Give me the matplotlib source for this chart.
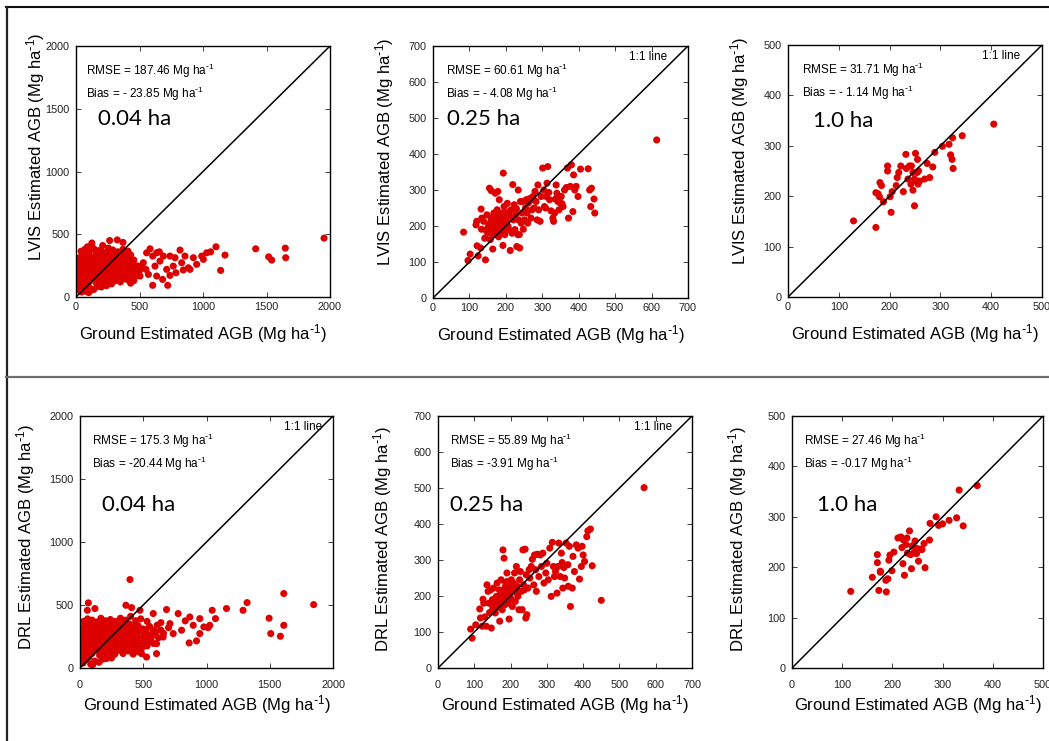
import numpy as np
import matplotlib
matplotlib.use("Agg")
import matplotlib.pyplot as plt
from matplotlib.lines import Line2D

plt.rcParams['font.family'] = ['Liberation Sans', 'DejaVu Sans']
plt.rcParams['mathtext.default'] = 'regular'

############################################
# DATA
############################################

# LVIS vs ground, 0.04 ha
lvis04_x = [30, 55, 80, 110, 140, 170, 60, 95, 15, 45, 100, 120, 200, 240,
            10, 35, 65, 100, 130, 160, 190, 220, 250, 280, 310, 350, 400, 430,
            5, 25, 50, 75, 105, 130, 155, 185, 210, 240, 270, 300, 330, 360, 390, 420, 450, 480,
            8, 30, 55, 80, 110, 135, 160, 190, 215, 245, 275, 305, 335, 365, 395, 425, 455, 500,
            10, 35, 60, 90, 115, 145, 170, 200, 230, 260, 290, 320, 350, 380, 410, 440, 470,
            20, 45, 75, 100, 130, 160, 185, 215, 245, 275, 305, 335, 365, 395, 430,
            40, 70, 105, 140, 180, 215, 255, 290, 330, 370, 410,
            20, 50, 85, 120, 150, 180, 235, 265, 295, 330, 370, 415, 455,
            20, 48, 92, 122, 175, 228, 255, 318, 345, 405, 440, 490,
            25, 72, 122, 195, 225, 262, 305, 345, 375, 430, 465, 520,
            30, 88, 118, 200, 232, 262, 310, 350, 375, 415, 455,
            55, 90, 160, 200, 230, 275, 310, 350, 390,
            125, 265, 325, 370, 210, 90,
            583, 556, 604, 530, 622, 656, 688, 635, 604, 661, 714, 722, 740, 766, 780,
            819, 832, 845, 858, 885, 898, 924, 950, 990, 1003, 1029, 1060, 1102, 1139,
            1173, 1415, 1517, 1541, 1648, 1651, 1953, 682, 570, 504, 491, 551, 740, 787, 635]
lvis04_y = [50, 75, 45, 70, 60, 85, 110, 95, 90, 40, 35, 55, 80, 90,
            120, 140, 130, 120, 135, 110, 125, 100, 115, 105, 130, 120, 140, 110,
            170, 185, 160, 175, 165, 190, 160, 180, 155, 175, 160, 185, 150, 175, 160, 185, 150, 170,
            220, 230, 205, 235, 215, 240, 210, 230, 205, 225, 240, 210, 230, 205, 235, 215, 230, 210,
            260, 280, 255, 275, 250, 285, 260, 280, 255, 290, 265, 280, 255, 285, 260, 275, 250,
            310, 330, 305, 335, 315, 340, 305, 325, 310, 335, 320, 300, 330, 315, 335,
            365, 380, 360, 385, 370, 355, 390, 375, 360, 380, 365,
            148, 150, 150, 152, 142, 150, 140, 145, 170, 140, 145, 160, 130,
            198, 196, 196, 200, 205, 192, 200, 190, 198, 200, 190, 195,
            245, 250, 238, 252, 240, 248, 245, 250, 240, 250, 245, 235,
            290, 300, 300, 300, 292, 310, 295, 300, 300, 300, 295,
            345, 350, 345, 350, 348, 350, 348, 345, 345,
            430, 450, 455, 435, 410, 400,
            384, 352, 326, 273, 246, 360, 326, 167, 93, 286, 220, 93, 326, 246, 313,
            374, 273, 215, 326, 233, 220, 313, 260, 326, 300, 352, 360, 400, 212,
            334, 384, 320, 294, 389, 313, 469, 140, 180, 167, 246, 220, 172, 193, 352]

# LVIS vs ground, 0.25 ha
lvis25_x = [84, 96, 102, 121, 124, 131, 132, 118, 120, 133, 134, 139, 142, 144, 145, 148,
            150, 152, 154, 155, 157, 159, 160, 163, 164, 166, 167, 169, 171, 173, 174, 176,
            177, 178, 180, 182, 183, 185, 187, 189, 190, 192, 193, 194, 195, 196, 197, 199,
            200, 202, 204, 206, 208, 210, 212, 214, 217, 219, 221, 223, 225, 227, 229, 230,
            233, 234, 235, 237, 238, 240, 242, 244, 246, 248, 251, 254, 256, 258, 260, 262,
            265, 269, 272, 274, 276, 278, 280, 283, 286, 288, 290, 294, 297, 301, 304, 306,
            309, 311, 313, 315, 318, 320, 324, 329, 331, 334, 336, 338, 340, 343, 346, 347,
            349, 352, 354, 357, 361, 366, 369, 372, 377, 380, 384, 386, 389, 393, 398, 405,
            426, 430, 433, 435, 442, 444, 614,
            165, 175, 185, 195, 205, 170, 180, 190, 200, 160, 210]
lvis25_y = [183, 104, 122, 145, 117, 139, 247, 203, 213, 191, 222, 213, 166, 106, 189, 231,
            180, 199, 206, 305, 162, 222, 298, 190, 136, 176, 236, 199, 291, 217, 180, 245,
            190, 296, 208, 273, 231, 194, 217, 180, 236, 146, 347, 203, 254, 222, 176, 190,
            236, 213, 263, 199, 190, 227, 132, 245, 180, 315, 217, 259, 190, 231, 248, 143,
            176, 300, 217, 176, 139, 268, 208, 236, 268, 191, 217, 250, 273, 236, 208, 264,
            276, 222, 245, 282, 273, 250, 296, 268, 217, 314, 245, 213, 282, 361, 300, 254,
            250, 282, 319, 365, 293, 273, 242, 222, 213, 236, 275, 314, 291, 268, 245, 278,
            264, 282, 262, 254, 300, 307, 361, 222, 310, 370, 240, 342, 300, 310, 282, 358,
            359, 300, 254, 305, 275, 236, 439,
            195, 210, 185, 205, 200, 225, 170, 220, 210, 210, 240]

# LVIS vs ground, 1.0 ha
lvis10_x = [129, 173, 173, 177, 180, 181, 184, 188, 196, 196, 201, 203, 205, 213, 215, 218,
            222, 227, 232, 233, 236, 239, 242, 243, 246, 246, 249, 251, 253, 254, 255, 256,
            257, 259, 269, 274, 279, 285, 289, 304, 317, 320, 323, 324, 325, 343, 405, 249]
lvis10_y = [151, 138, 207, 205, 199, 227, 221, 189, 260, 250, 199, 168, 209, 221, 237, 247,
            260, 209, 283, 255, 234, 260, 224, 260, 212, 247, 181, 285, 230, 247, 273, 224,
            250, 230, 234, 265, 237, 258, 287, 299, 303, 282, 273, 316, 255, 320, 343, 234]

# DRL vs ground, 0.04 ha
drl04_x = [25, 50, 85, 115, 150, 180, 40, 70, 12, 100, 210, 250,
           8, 30, 60, 95, 125, 155, 185, 215, 245, 275, 305, 340, 380, 420, 460,
           5, 20, 45, 70, 100, 125, 150, 180, 205, 235, 265, 295, 325, 355, 385, 415, 445, 490, 530,
           10, 35, 60, 85, 115, 140, 165, 195, 220, 250, 280, 310, 340, 370, 400, 430, 465, 510, 560, 620,
           15, 40, 65, 95, 120, 150, 175, 205, 235, 265, 295, 325, 355, 385, 415, 450, 490, 540, 600, 660,
           20, 50, 80, 110, 140, 170, 200, 230, 260, 290, 320, 350, 380, 420, 460, 500, 550, 610, 700,
           30, 60, 95, 130, 165, 200, 240, 280, 320, 360, 400, 440, 480, 530, 640,
           15, 45, 80, 110, 140, 170, 200, 230, 260, 290, 320, 360, 400, 440,
           25, 55, 90, 130, 160, 190, 230, 260, 300, 340, 380, 420, 470, 520, 580,
           20, 50, 80, 115, 150, 185, 220, 255, 290, 330, 370, 410, 455, 505, 570, 640,
           35, 70, 105, 150, 190, 230, 270, 310, 350, 390, 430, 470, 520, 580,
           45, 85, 125, 165, 210, 255, 300, 345, 390, 440,
           66, 395, 58, 118, 363, 408, 474, 579, 684, 776, 868, 947, 1045, 1071, 1158,
           1289, 1321, 1495, 1508, 1584, 1611, 1611, 1847, 863, 921, 947, 1013, 1026, 979,
           895, 832, 803, 737, 711, 658, 605, 526, 487, 605]
drl04_y = [40, 65, 30, 55, 45, 70, 100, 85, 80, 25, 75, 80,
           120, 105, 130, 115, 140, 100, 125, 105, 130, 110, 140, 115, 135, 110, 130,
           175, 160, 185, 165, 190, 170, 155, 185, 165, 180, 160, 190, 170, 155, 185, 165, 180, 160, 175,
           225, 240, 210, 235, 215, 245, 220, 235, 210, 240, 220, 205, 235, 215, 245, 225, 210, 235, 220, 240,
           270, 290, 260, 285, 265, 295, 270, 290, 260, 285, 270, 295, 260, 280, 300, 270, 290, 265, 285, 275,
           320, 340, 310, 335, 315, 345, 325, 310, 340, 320, 335, 315, 345, 320, 335, 310, 330, 340, 320,
           370, 390, 380, 365, 395, 375, 385, 370, 395, 380, 410, 375, 390, 370, 360,
           150, 145, 150, 155, 150, 145, 150, 155, 150, 145, 150, 150, 155, 145,
           200, 200, 195, 200, 205, 195, 200, 205, 195, 200, 205, 200, 195, 200, 195,
           250, 255, 250, 245, 255, 250, 245, 255, 250, 245, 255, 250, 245, 250, 255,
           300, 300, 305, 300, 295, 305, 300, 295, 300, 305, 300, 295, 300, 300, 300,
           350, 355, 350, 345, 355, 350, 345, 355, 350, 345,
           517, 702, 458, 472, 498, 479, 458, 432, 464, 432, 405, 392, 458, 392, 472,
           458, 519, 395, 273, 252, 591, 339, 503, 199, 215, 273, 320, 339, 326,
           339, 374, 300, 273, 352, 246, 114, 87, 114, 193]

# DRL vs ground, 0.25 ha
drl25_x = [90, 94, 104, 115, 117, 122, 124, 126, 129, 133, 135, 138, 140, 142, 145, 147,
           150, 151, 153, 156, 158, 161, 163, 165, 167, 169, 170, 172, 174, 176, 177, 179,
           180, 182, 184, 185, 187, 189, 190, 192, 194, 196, 198, 199, 202, 205, 207, 208,
           211, 213, 216, 218, 220, 223, 225, 227, 230, 232, 234, 236, 238, 240, 242, 243,
           245, 248, 251, 253, 257, 260, 264, 266, 269, 271, 274, 278, 282, 285, 289, 292,
           297, 300, 304, 308, 312, 315, 318, 321, 324, 328, 331, 333, 337, 340, 342, 344,
           347, 349, 353, 358, 359, 362, 365, 370, 372, 376, 381, 386, 390, 395, 397, 400,
           404, 410, 413, 420, 425, 450, 568,
           175, 185, 195, 205, 180, 200, 190, 215]
drl25_y = [108, 83, 120, 164, 139, 116, 191, 180, 142, 116, 231, 213, 180, 154, 217, 111,
           190, 167, 222, 180, 153, 199, 236, 169, 190, 217, 130, 180, 245, 206, 162, 328,
           190, 305, 217, 176, 236, 199, 264, 180, 213, 136, 227, 190, 245, 171, 217, 236,
           264, 185, 282, 227, 199, 162, 245, 268, 213, 162, 328, 231, 217, 330, 139, 259,
           148, 222, 273, 250, 282, 302, 231, 314, 273, 213, 316, 254, 314, 282, 319, 236,
           264, 291, 245, 333, 199, 349, 282, 254, 268, 208, 282, 347, 254, 319, 293, 222,
           279, 250, 347, 287, 227, 338, 171, 222, 310, 268, 342, 333, 247, 282, 338, 314,
           296, 365, 381, 386, 284, 188, 501,
           210, 225, 205, 220, 185, 195, 240, 210]

# DRL vs ground, 1.0 ha
drl10_x = [117, 160, 170, 170, 173, 176, 176, 187, 188, 191, 193, 195, 199, 203, 211, 217,
           219, 221, 222, 224, 227, 229, 230, 234, 236, 238, 239, 242, 245, 247, 248, 250,
           252, 255, 259, 263, 265, 274, 275, 287, 292, 300, 313, 328, 333, 341, 369]
drl10_y = [152, 180, 225, 209, 154, 192, 190, 174, 151, 177, 214, 224, 193, 230, 258, 260,
           239, 207, 254, 184, 245, 258, 228, 272, 225, 197, 242, 228, 252, 238, 227, 232,
           212, 236, 235, 247, 199, 254, 287, 300, 283, 286, 293, 298, 353, 282, 362]

# panel settings: data, axis max, tick step, y-label source, stats, plot size, show "1:1 line"
panels = [
    (lvis04_x, lvis04_y, 2000, 500, 'LVIS', '187.46', '- 23.85', '0.04 ha', False),
    (lvis25_x, lvis25_y, 700, 100, 'LVIS', '60.61', '- 4.08', '0.25 ha', True),
    (lvis10_x, lvis10_y, 500, 100, 'LVIS', '31.71', '- 1.14', '1.0 ha', True),
    (drl04_x, drl04_y, 2000, 500, 'DRL', '175.3', '-20.44', '0.04 ha', True),
    (drl25_x, drl25_y, 700, 100, 'DRL', '55.89', '-3.91', '0.25 ha', True),
    (drl10_x, drl10_y, 500, 100, 'DRL', '27.46', '-0.17', '1.0 ha', False),
]

############################################
# LAYOUT (pixel boxes in the 1049x741 figure)
############################################
W, H = 1049, 741
boxes = [(76, 46, 330, 297), (433, 46, 688, 298), (788, 45, 1042, 297),
         (80, 416, 333, 668), (438, 416, 692, 668), (792, 416, 1043, 668)]
ylab_dx = [40, 48, 48, 54, 55, 54]
ylab_fy = [0.60, 0.58, 0.58, 0.52, 0.51, 0.51]
size_y = [0.71, 0.71, 0.70, 0.647, 0.647, 0.647]
size_x = [0.087, 0.055, 0.10, 0.087, 0.047, 0.10]
stat_x = [0.04, 0.05, 0.055, 0.047, 0.047, 0.048]
ll_x = [0.92, 0.92, 0.915, 0.956, 0.92, 0.92]

SUP = '$^{\\text{-}1}$'

fig = plt.figure(figsize=(W / 100, H / 100), dpi=100)

for i, (px, py, vmax, step, src, rmse, bias, size, show11) in enumerate(panels):
    l, t, r, b = boxes[i]
    ax = fig.add_axes([l / W, 1 - b / H, (r - l) / W, (b - t) / H])
    ax.scatter(px, py, s=26, color='#dd0000', edgecolors='none', zorder=2)
    ax.plot([0, vmax], [0, vmax], color='black', lw=1.1, zorder=3)
    ax.set_xlim(0, vmax)
    ax.set_ylim(0, vmax)
    ticks = np.arange(0, vmax + 1, step)
    ax.set_xticks(ticks)
    ax.set_yticks(ticks)
    bottom_row = i >= 3
    ax.tick_params(direction='in', top=True, right=True, length=3.5, width=0.6,
                   labelsize=7.8, colors='#222222')
    ax.tick_params(axis='x', pad=9 if bottom_row else 3.5)
    ax.tick_params(axis='y', pad=4.5)
    for sp in ax.spines.values():
        sp.set_linewidth(1.0)

    ax.set_xlabel('Ground Estimated AGB (Mg ha' + SUP + ')', fontsize=12, va='center')
    ax.xaxis.set_label_coords(0.5, -37 / (b - t))
    ax.set_ylabel(src + ' Estimated AGB (Mg ha' + SUP + ')', fontsize=12, va='center')
    ax.yaxis.set_label_coords(-ylab_dx[i] / (r - l), ylab_fy[i])

    ax.text(stat_x[i], 0.90, f'RMSE = {rmse} Mg ha' + SUP, transform=ax.transAxes,
            fontsize=8.5, va='center', ha='left')
    ax.text(stat_x[i], 0.808, f'Bias = {bias} Mg ha' + SUP, transform=ax.transAxes,
            fontsize=8.5, va='center', ha='left')
    ax.text(size_x[i], size_y[i], size, transform=ax.transAxes, fontsize=16,
            family='Lato', va='center', ha='left')
    if show11:
        ax.text(ll_x[i], 0.955, '1:1 line', transform=ax.transAxes, fontsize=8.5,
                va='center', ha='right')

# page frame lines around the two rows
fig.lines.append(Line2D([6 / W, 1], [1 - 7 / H, 1 - 7 / H], transform=fig.transFigure,
                        color='#111111', lw=1.5))
fig.lines.append(Line2D([6.5 / W, 6.5 / W], [0, 1 - 7 / H], transform=fig.transFigure,
                        color='#222222', lw=1.6))
fig.lines.append(Line2D([6 / W, 1048 / W], [1 - 377 / H, 1 - 377 / H], transform=fig.transFigure,
                        color='#6e6e6e', lw=1.6))

fig.savefig('out.png', dpi=100)
